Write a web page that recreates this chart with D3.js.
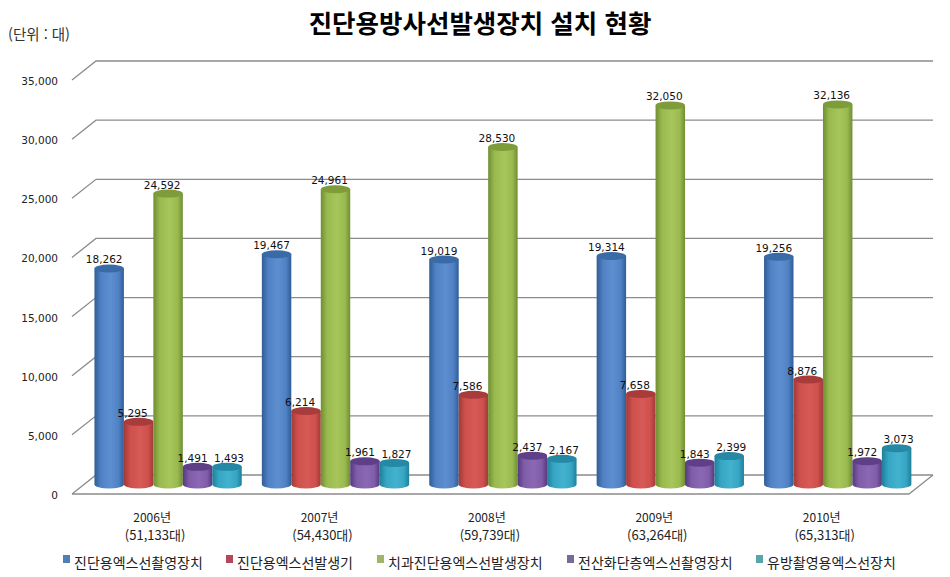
<!DOCTYPE html>
<html lang="ko">
<head>
<meta charset="utf-8">
<script src="https://cdn.jsdelivr.net/npm/d3@7/dist/d3.min.js"></script>
<style>
html,body{margin:0;padding:0;background:#fff;}
svg{display:block;}
</style>
</head>
<body>
<svg id="chart" width="950" height="577"></svg>
<script>
const title = "진단용방사선발생장치 설치 현황";
const unitLabel = "(단위 : 대)";
const years = ["2006년", "2007년", "2008년", "2009년", "2010년"];
const totals = ["(51,133대)", "(54,430대)", "(59,739대)", "(63,264대)", "(65,313대)"];
const seriesNames = ["진단용엑스선촬영장치", "진단용엑스선발생기", "치과진단용엑스선발생장치", "전산화단층엑스선촬영장치", "유방촬영용엑스선장치"];
const xray = [18262, 19467, 19019, 19314, 19256];
const generator = [5295, 6214, 7586, 7658, 8876];
const dental = [24592, 24961, 28530, 32050, 32136];
const ct = [1491, 1961, 2437, 1843, 1972];
const mammo = [1493, 1827, 2167, 2399, 3073];
const yTicks = [0, 5000, 10000, 15000, 20000, 25000, 30000, 35000];

const allSeries = [xray, generator, dental, ct, mammo];
const palette = [
  {dark:"#2f5d96", mid:"#4f81c4", light:"#5d8fd0", top:"#3a6ba6", key:"#4f7fb4"},
  {dark:"#a03a38", mid:"#cf504c", light:"#d65a56", top:"#a83c3a", key:"#b5475a"},
  {dark:"#6f8f32", mid:"#9aba50", light:"#a6c65c", top:"#7e9c3a", key:"#a0b56a"},
  {dark:"#56397f", mid:"#7f5da8", light:"#8a68b4", top:"#5f4088", key:"#7a6a9a"},
  {dark:"#1f7f98", mid:"#36a6c4", light:"#42b2cf", top:"#2588a4", key:"#5aa5a8"}
];
const labelDx = [-5, -6, -6, -5, 2];

const svg = d3.select("#chart");
const defs = svg.append("defs");
palette.forEach((c, i) => {
  const g = defs.append("linearGradient").attr("id", "cyl" + i)
    .attr("x1", "0").attr("x2", "1").attr("y1", "0").attr("y2", "0");
  [[0, c.dark], [0.22, c.mid], [0.55, c.light], [0.82, c.mid], [1, c.dark]].forEach(s =>
    g.append("stop").attr("offset", s[0]).attr("stop-color", s[1]));
});

const y = d3.scaleLinear().domain([0, 35000]).range([475, 61]);
const depth = {x: 24, y: 19};
const baseShift = 9.5;
const plotL = 72, plotR = 909;

const x0 = d3.scaleBand().domain(years).range([84.4, 921.4]).paddingInner(0.12).paddingOuter(0.06);
const x1 = d3.scaleBand().domain(d3.range(5)).range([0, x0.bandwidth()]);

// title and unit
svg.append("text").text(title).attr("x", 480).attr("y", 33)
  .attr("text-anchor", "middle").attr("font-family", "'Noto Sans CJK KR'")
  .attr("font-weight", 700).attr("font-size", 25.5).attr("fill", "#000");
svg.append("text").text(unitLabel).attr("x", 8).attr("y", 40)
  .attr("font-family", "'Noto Sans CJK KR'").attr("font-size", 14.5).attr("fill", "#333");

// gridlines with 3D offset
const gridLine = d3.line();
const grid = svg.append("g").attr("fill", "none").attr("stroke", "#8c8c8c").attr("stroke-width", 1.3);
yTicks.forEach(t => {
  const yb = y(t);
  grid.append("path").attr("d", gridLine([[plotL, yb + depth.y], [plotL + depth.x, yb], [plotR + depth.x, yb]]));
});
grid.append("path").attr("d", gridLine([[plotL, y(0) + depth.y], [plotR, y(0) + depth.y], [plotR + depth.x, y(0)]]));

// y tick labels
svg.append("g").selectAll("text").data(yTicks).join("text")
  .attr("x", 58).attr("y", d => y(d) + depth.y + 5)
  .attr("text-anchor", "end").attr("font-family", "'DejaVu Sans'").attr("font-size", 10.5).attr("fill", "#222")
  .text(d => d3.format(",")(d));

// cylinders
const zero = y(0) + baseShift;
const h0 = y(0);
const ry = 4;
years.forEach((yr, gi) => {
  allSeries.forEach((vals, si) => {
    const v = vals[gi];
    const left = x0(yr) + x1(si), w = x1.bandwidth(), rx = w / 2, cx = left + rx;
    const topY = zero - (h0 - y(v));
    const g = svg.append("g");
    g.append("path")
      .attr("d", `M${left},${topY}L${left},${zero}A${rx},${ry} 0 0 0 ${left + w},${zero}L${left + w},${topY}Z`)
      .attr("fill", `url(#cyl${si})`);
    g.append("ellipse").attr("cx", cx).attr("cy", topY).attr("rx", rx).attr("ry", ry)
      .attr("fill", palette[si].top);
    svg.append("text").attr("x", cx + labelDx[si]).attr("y", topY - 5)
      .attr("text-anchor", "middle").attr("font-family", "'DejaVu Sans'").attr("font-size", 10.5).attr("fill", "#111")
      .text(d3.format(",")(v));
  });
});

// category labels
const catOffset = -16;
years.forEach((yr, i) => {
  const cx = x0(yr) + x0.bandwidth() / 2 + catOffset;
  svg.append("text").text(yr).attr("x", cx).attr("y", 522).attr("text-anchor", "middle")
    .attr("font-family", "'Noto Sans CJK KR'").attr("font-size", 12).attr("fill", "#222");
  svg.append("text").text(totals[i]).attr("x", cx + 3).attr("y", 540).attr("text-anchor", "middle")
    .attr("font-family", "'Noto Sans CJK KR'").attr("font-size", 13).attr("fill", "#222");
});

// legend
const legendX = [63, 226, 377, 567, 756];
const legend = svg.append("g");
seriesNames.forEach((n, i) => {
  legend.append("rect").attr("x", legendX[i]).attr("y", 555).attr("width", 7).attr("height", 8)
    .attr("fill", palette[i].key);
  legend.append("text").text(n).attr("x", legendX[i] + 11).attr("y", 568)
    .attr("font-family", "'Noto Sans CJK KR'").attr("font-size", 14).attr("fill", "#222");
});
</script>
</body>
</html>
